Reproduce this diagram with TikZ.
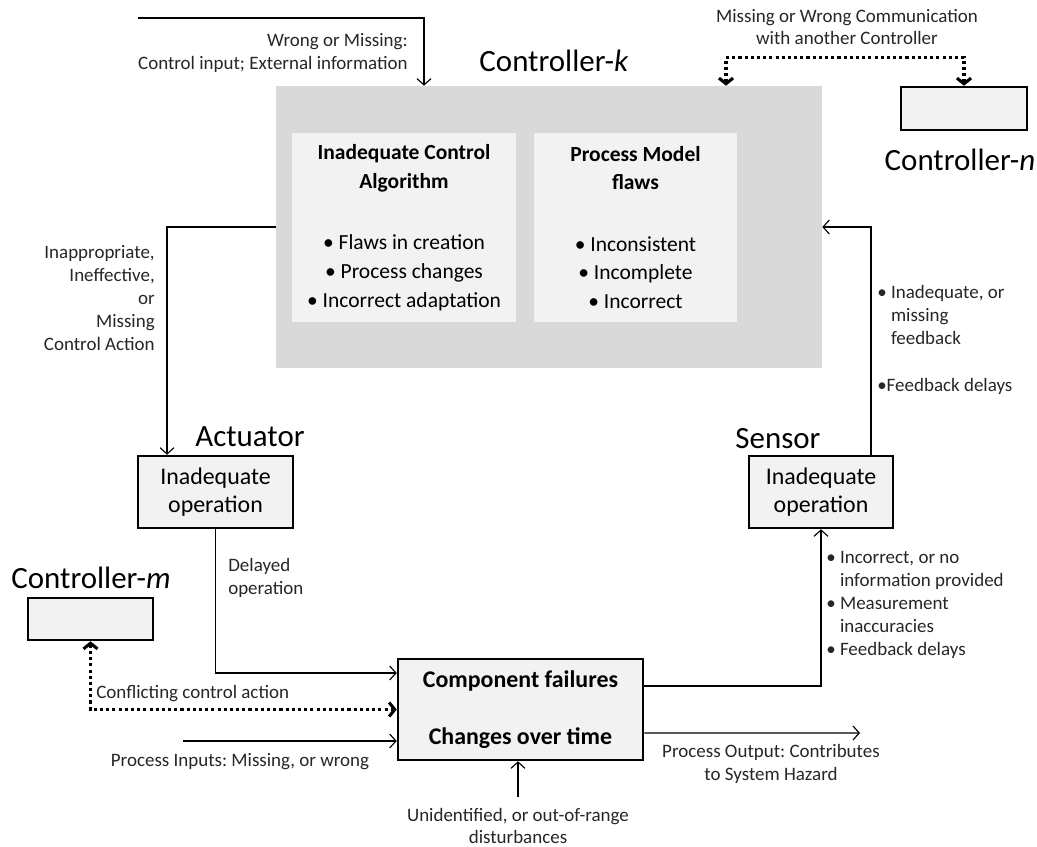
\documentclass[tikz,border=0pt]{standalone}
\usepackage{fontspec}
\setmainfont{Carlito}
\frenchspacing
\usetikzlibrary{calc,positioning,arrows.meta}
\definecolor{ctrlGray}{HTML}{D9D9D9}
\definecolor{boxGray}{HTML}{F2F2F2}
\tikzstyle{ctrlBox} = [draw=none, fill=ctrlGray, inner sep=0pt]
\tikzstyle{flawBox} = [fill=boxGray, align=center, inner sep=0pt, font=\fontsize{15.3}{20.5}\selectfont]
\tikzstyle{partBox} = [draw=black, line width=1.8pt, fill=boxGray, align=center, inner sep=0pt, font=\fontsize{17}{20}\selectfont]
\tikzstyle{headText} = [font=\fontsize{22}{26}\selectfont, inner sep=0pt]
\tikzstyle{noteText} = [font=\fontsize{13.5}{16.3}\selectfont, inner sep=0pt, text=black!85]
\tikzstyle{sigArrow} = [line width=0.8pt, -{Straight Barb[length=4.5pt,width=10pt]}]
\tikzstyle{commArrow} = [line width=2.2pt, dash pattern=on 2.2pt off 2.2pt, {Straight Barb[length=4pt,width=10pt]}-{Straight Barb[length=4pt,width=10pt]}]

\begin{document}
\begin{tikzpicture}[x=0.25mm,y=-0.25mm]
      \useasboundingbox (0,0) rectangle (1037,847);
      \node[ctrlBox, minimum width=136.5mm, minimum height=70.5mm] (ctrlk) at (549,227) {};
      \node[flawBox, minimum width=56mm, minimum height=47.25mm] (algo) at (404,227.5) {\textbf{Inadequate Control}\\\textbf{Algorithm}\\[23pt]\textbullet{} Flaws in creation\\\textbullet{} Process changes\\\textbullet{} Incorrect adaptation};
      \node[flawBox, minimum width=50.75mm, minimum height=47.25mm] (model) at (635.5,227.5) {\textbf{Process Model}\\\textbf{flaws}\\[23pt]\textbullet{} Inconsistent\\\textbullet{} Incomplete\\\textbullet{} Incorrect};
      \node[headText] (ctrlkLabel) at (554,61) {Controller-\textit{k}};
      \node[partBox, minimum width=31.5mm, minimum height=10.75mm] (ctrln) at (964,108.5) {};
      \node[headText] (ctrlnLabel) at (960,160) {Controller-\textit{n}};
      \node[partBox, minimum width=38.75mm, minimum height=18mm] (act) at (215.5,492) {Inadequate\\operation};
      \node[headText] (actLabel) at (250,437) {Actuator};
      \node[partBox, minimum width=36mm, minimum height=18mm] (sens) at (821,492) {Inadequate\\operation};
      \node[headText] (sensLabel) at (778,439) {Sensor};
      \node[partBox, minimum width=61.25mm, minimum height=25.25mm] (proc) at (520.5,709.5) {\textbf{Component failures}\\[21pt]\textbf{Changes over time}};
      \node[partBox, minimum width=31.25mm, minimum height=10.5mm] (ctrlm) at (90.5,619) {};
      \node[headText] (ctrlmLabel) at (91,578) {Controller-\textit{m}};

      \coordinate (inA) at (138,18);
      \coordinate (comm) at (845,57.5);
      \coordinate (pin) at (183,741);
      \coordinate (dist) at (518,797);
      \coordinate (pout) at (860,733);

      \draw[sigArrow] (inA) -| ([xshift=-31.25mm]ctrlk.north);
      \node[noteText, anchor=east, align=right] (inNote) at (408,53) {Wrong or Missing:\\Control input; External information};
      \draw[commArrow] ([xshift=44.25mm]ctrlk.north) |- (comm) -| (ctrln.north);
      \node[noteText, align=center] (commNote) at (847,27) {Missing or Wrong Communication\\with another Controller};
      \draw[sigArrow] (ctrlk.west) -| ([xshift=-12.125mm]act.north);
      \node[noteText, anchor=east, align=right] (actNote) at (155,298) {Inappropriate,\\Ineffective,\\or\\Missing\\Control Action};
      \draw[sigArrow] (act.south) |- ([yshift=9.125mm]proc.west);
      \node[noteText, anchor=west, align=left] (delayNote) at (228,578) {Delayed\\operation};
      \draw[commArrow] (ctrlm.south) |- (proc.west);
      \node[noteText, anchor=west] (conflNote) at (96,694) {Conflicting control action};
      \draw[sigArrow] (pin) -- (pin -| proc.west);
      \node[noteText] (pinNote) at (240,762) {Process Inputs: Missing, or wrong};
      \draw[sigArrow] (dist) -- (dist |- proc.south);
      \node[noteText, align=center] (distNote) at (518,826) {Unidentified, or out-of-range\\disturbances};
      \draw[sigArrow] ([yshift=-5.875mm]proc.east) -- (pout);
      \node[noteText, align=center] (poutNote) at (771,764) {Process Output: Contributes\\to System Hazard};
      \draw[sigArrow] ([yshift=5.875mm]proc.east) -| (sens.south);
      \node[noteText, anchor=west, align=left] (sensNote) at (826,605) {\textbullet{} Incorrect, or no\\\phantom{\textbullet{} }information provided\\\textbullet{} Measurement\\\phantom{\textbullet{} }inaccuracies\\\textbullet{} Feedback delays};
      \draw[sigArrow] ([xshift=12.5mm]sens.north) |- (ctrlk.east);
      \node[noteText, anchor=west, align=left] (fbNote) at (877,340) {\textbullet{} Inadequate, or\\\phantom{\textbullet{} }missing\\\phantom{\textbullet{} }feedback\\[17pt]\textbullet Feedback delays};
    \end{tikzpicture}
\end{document}
